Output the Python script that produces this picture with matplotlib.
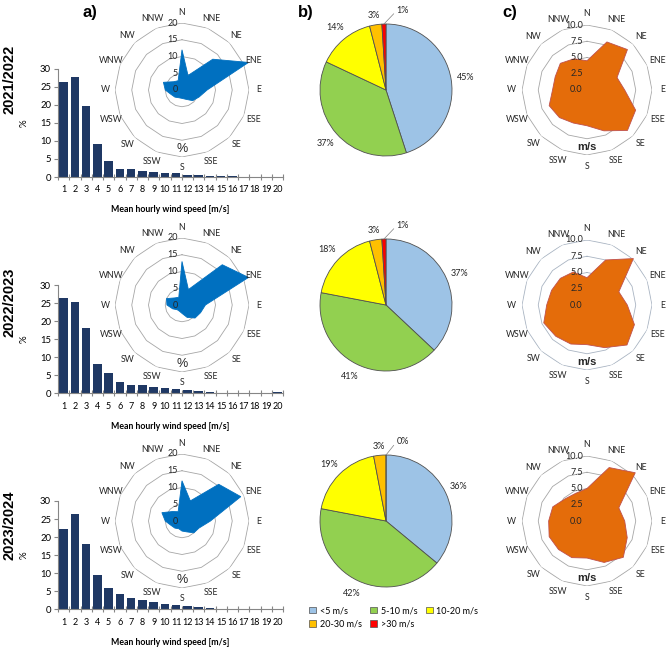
import matplotlib.pyplot as plt
import numpy as np
from matplotlib.patches import Patch

plt.rcParams['font.family'] = ['Lato', 'DejaVu Sans']

W, H = 669, 651

years = ['2021/2022', '2022/2023', '2023/2024']
dirs = ['N', 'NNE', 'NE', 'ENE', 'E', 'ESE', 'SE', 'SSE',
        'S', 'SSW', 'SW', 'WSW', 'W', 'WNW', 'NW', 'NNW']
speeds = list(range(1, 21))

# frequency of mean hourly wind speed [%]
freq_2122 = [26.2, 27.8, 19.8, 9.2, 4.4, 2.2, 2.1, 1.6, 1.4, 1.0,
             1.0, 0.6, 0.5, 0.3, 0.3, 0.2, 0.1, 0.1, 0.05, 0.05]
freq_2223 = [26.3, 25.3, 18.2, 8.1, 5.5, 3.1, 2.3, 2.3, 1.8, 1.6,
             1.1, 0.8, 0.6, 0.3, 0.2, 0.1, 0.1, 0.05, 0.05, 0.3]
freq_2324 = [22.3, 26.5, 18.1, 9.5, 6.0, 4.1, 3.0, 2.7, 2.1, 1.6,
             1.2, 0.9, 0.6, 0.4, 0.2, 0.05, 0, 0, 0, 0]

# wind direction frequency [%]
rose_2122 = [12, 4.7, 13, 21.5, 7.5, 5.5, 4.5, 3, 2.5, 2.5, 3, 3.5, 5, 6, 3.5, 3]
rose_2223 = [13, 5, 17, 21.5, 7, 6, 5.5, 4, 2.5, 2, 2, 3, 4.5, 5, 3, 2.5]
rose_2324 = [12, 6.5, 15.5, 19, 8.5, 5.5, 5, 3.5, 3, 2.5, 3, 3.5, 5, 6.5, 4, 3]

# mean wind speed per direction [m/s]
mean_2122 = [4.5, 8.0, 8.8, 5.0, 5.8, 8.1, 8.8, 6.8, 5.5, 5.5, 6.0, 6.3, 5.3, 5.3, 5.8, 5.2]
mean_2223 = [4.2, 7.5, 10.1, 5.3, 6.2, 7.9, 8.7, 7.1, 6.1, 6.5, 6.8, 7.2, 6.2, 5.9, 5.8, 5.5]
mean_2324 = [5.0, 8.9, 10.5, 5.3, 5.8, 6.7, 7.9, 6.9, 5.7, 6.1, 6.2, 6.3, 5.9, 5.7, 4.8, 4.6]

# share of wind speed classes [%]
classes = ['<5 m/s', '5-10 m/s', '10-20 m/s', '20-30 m/s', '>30 m/s']
pie_2122 = [45, 37, 14, 3, 1]
pie_2223 = [37, 41, 18, 3, 1]
pie_2324 = [36, 42, 19, 3, 0]

freqs = [freq_2122, freq_2223, freq_2324]
roses = [rose_2122, rose_2223, rose_2324]
means = [mean_2122, mean_2223, mean_2324]
pies = [pie_2122, pie_2223, pie_2324]

pie_cols = ['#9DC3E6', '#92D050', '#FFFF00', '#FFC000', '#FF0000']

fig = plt.figure(figsize=(W / 100, H / 100), dpi=100)


def box(x, y, w, h, **kw):
    return fig.add_axes([x / W, 1 - (y + h) / H, w / W, h / H], **kw)


def radar(ax, vals, rmax, rings, ring_lbls, fill, edge, grid_col, lbl_r, unit, unit_r, unit_kw):
    theta = np.deg2rad(np.arange(16) * 22.5)
    tc = np.append(theta, theta[0])
    ax.set_theta_zero_location('N')
    ax.set_theta_direction(-1)
    ax.set_ylim(0, rmax)
    ax.set_facecolor('none')
    ax.grid(False)
    ax.spines['polar'].set_visible(False)
    ax.set_xticks([])
    ax.set_yticks([])
    for r in rings:
        ax.plot(tc, [r] * 17, color=grid_col, lw=0.6, zorder=1)
    v = np.append(vals, vals[0])
    ax.fill(tc, v, facecolor=fill, edgecolor=edge, lw=0.6, zorder=2, clip_on=False)
    for t, d in zip(theta, dirs):
        ax.text(t, lbl_r, d, ha='center', va='center', fontsize=6.3, color='#262626')
    for r, s in zip([0] + rings, ring_lbls):
        ax.annotate(s, (0, r), xytext=(-3, 0), textcoords='offset points',
                    ha='right', va='center', fontsize=6.5, color='#262626', zorder=5)
    ax.text(np.pi, unit_r, unit, ha='center', va='center', **unit_kw)


centers = [90, 305, 521]
bar_tops = [68.7, 285, 501]
year_y = [79, 302, 525]
grid_cols = ['#A6A6A6', '#A9B4C2', '#A6A6A6']

for i in range(3):
    # histogram
    ax = box(58, bar_tops[i], 225, 108.3)
    ax.bar(speeds, freqs[i], width=0.75, color='#1F3864')
    ax.set_xlim(0.5, 20.5)
    ax.set_ylim(0, 30)
    ax.set_yticks(range(0, 31, 5))
    ax.set_xticks(np.arange(0.5, 21, 1))
    ax.set_xticklabels([])
    ax.set_xticks(speeds, [str(s) for s in speeds], minor=True)
    ax.tick_params(axis='x', which='major', direction='inout', length=4, color='#868686')
    ax.tick_params(axis='x', which='minor', length=0, labelsize=6.5, pad=6)
    ax.tick_params(axis='y', length=3, color='#868686', labelsize=6.8, pad=2)
    for s in ['top', 'right']:
        ax.spines[s].set_visible(False)
    for s in ['left', 'bottom']:
        ax.spines[s].set_color('#868686')
        ax.spines[s].set_linewidth(0.8)
    ax.set_facecolor('none')
    ax.set_ylabel('%', fontsize=7, labelpad=8)
    ax.set_xlabel('Mean hourly wind speed [m/s]', fontsize=6.3, fontweight='bold', labelpad=8)
    fig.text(10 / W, 1 - year_y[i] / H, years[i], rotation=90, ha='center', va='center',
             fontsize=10.5, fontweight='bold', family='Liberation Sans')

    # wind rose (frequency)
    cy = centers[i]
    ax = box(115, cy - 67, 134, 134, projection='polar')
    radar(ax, roses[i], 20, [5, 10, 15, 20], ['0', '5', '10', '15', '20'],
          '#0070C0', '#0070C0', '#A6A6A6', 23, '%', 17.5,
          dict(fontsize=9, family='Liberation Sans', color='#262626'))

    # pie of speed classes
    ax = box(320, cy - 66, 132, 132)
    wedges, _ = ax.pie(pies[i], colors=pie_cols, startangle=90, counterclock=False,
                       wedgeprops=dict(edgecolor='#505050', linewidth=0.6))
    ax.set_xlim(-1, 1)
    ax.set_ylim(-1, 1)
    for k, (w, v) in enumerate(zip(wedges, pies[i])):
        ang = np.deg2rad((w.theta1 + w.theta2) / 2)
        if k == len(wedges) - 1:
            ax.annotate(f'{v}%', (np.cos(ang), np.sin(ang)), xytext=(0.16, 1.2),
                        ha='left', va='center', fontsize=6.5, color='#262626',
                        arrowprops=dict(arrowstyle='-', color='#7F7F7F', lw=0.5,
                                        shrinkA=0, shrinkB=0, relpos=(0, 0.5)),
                        annotation_clip=False)
        else:
            d = 1.22 if v >= 5 else 1.14
            ax.text(d * np.cos(ang), d * np.sin(ang), f'{v}%', ha='center', va='center',
                    fontsize=6.5, color='#262626')

    # mean speed per direction
    ax = box(522, cy - 65, 130, 130, projection='polar')
    radar(ax, means[i], 10, [2.5, 5, 7.5, 10], ['0.0', '2.5', '5.0', '7.5', '10.0'],
          '#E46C0A', '#C0504D', grid_cols[i], 11.7, 'm/s', 8.8,
          dict(fontsize=8, fontweight='bold', family='Liberation Sans', color='#262626'))

for lbl, x in zip(['a)', 'b)', 'c)'], [90, 306, 510]):
    fig.text(x / W, 1 - 12 / H, lbl, ha='center', va='center', fontsize=12,
             fontweight='bold', family='Liberation Sans')

handles = [Patch(facecolor=c, edgecolor='#505050', lw=0.5) for c in pie_cols]
order = [0, 3, 1, 4, 2]
fig.legend([handles[k] for k in order], [classes[k] for k in order], ncol=3,
           loc='upper left', bbox_to_anchor=(301 / W, 1 - 598 / H), frameon=False,
           fontsize=6.5, handlelength=0.8, handleheight=0.8, handletextpad=0.4,
           columnspacing=0.9, labelspacing=0.45)

fig.savefig('out.png', dpi=100, facecolor='white')
